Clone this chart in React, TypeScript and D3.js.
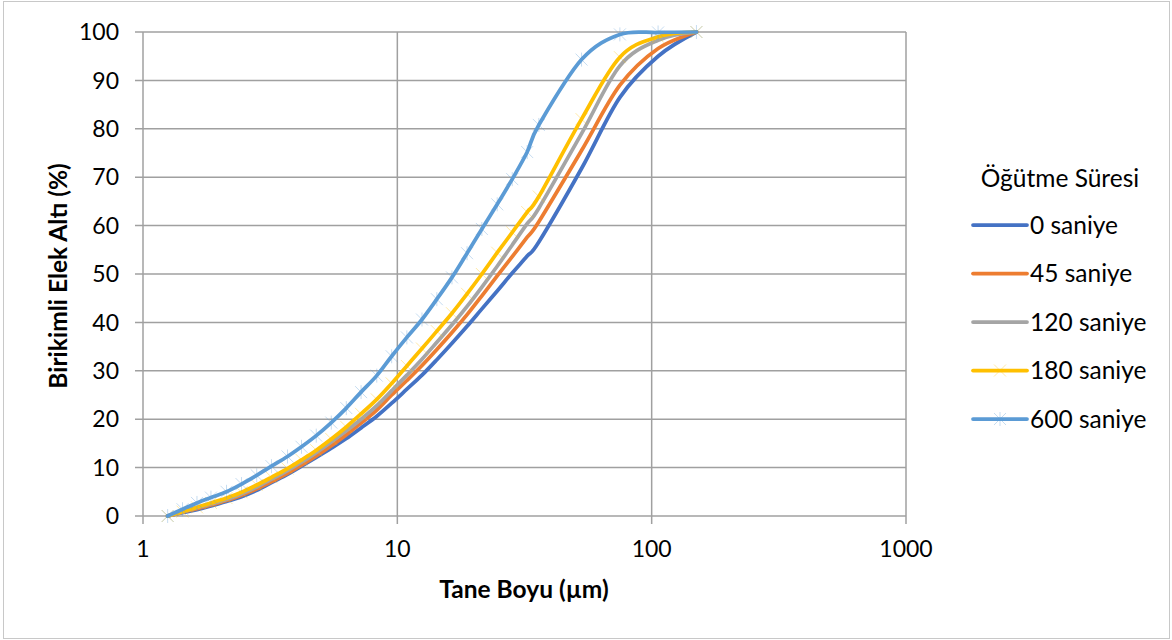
import React from "react";
import * as d3 from "d3";

const sizes = [1.25, 1.43, 1.63, 1.85, 2.13, 2.44, 2.8, 3.2, 3.7, 4.2, 4.8, 5.5, 6.3, 7.2, 8.3, 9.5, 10.9, 12.5, 14.3, 16.4, 18.8, 21.5, 24.7, 28.3, 32.4, 36, 53, 75, 106, 150];

const s0 = [0, 0.7, 1.3, 2.1, 3.0, 4.0, 5.3, 6.9, 8.6, 10.3, 12.1, 14.0, 16.0, 18.2, 20.6, 23.3, 26.2, 29.1, 32.3, 35.7, 39.2, 42.8, 46.5, 50.2, 53.7, 56.6, 71.8, 86.5, 95.0, 100];
const s45 = [0, 0.8, 1.5, 2.3, 3.2, 4.3, 5.6, 7.1, 8.8, 10.5, 12.4, 14.5, 16.8, 19.2, 21.9, 25.0, 28.0, 31.1, 34.4, 37.9, 41.6, 45.5, 49.6, 53.6, 57.6, 60.8, 75.5, 89.0, 96.6, 100];
const s120 = [0, 0.85, 1.7, 2.5, 3.4, 4.6, 6.0, 7.6, 9.4, 11.1, 13.1, 15.3, 17.6, 20.0, 22.8, 25.9, 29.1, 32.4, 35.9, 39.5, 43.3, 47.3, 51.6, 56.0, 60.4, 63.6, 79.0, 93.0, 98.3, 100];
const s180 = [0, 0.9, 1.8, 2.7, 3.7, 4.9, 6.4, 8.0, 9.8, 11.6, 13.6, 15.9, 18.4, 21.1, 24.1, 27.4, 31.0, 34.6, 38.2, 41.9, 45.9, 50.0, 54.4, 58.6, 62.8, 66.0, 82.0, 94.8, 99.0, 100];
const s600 = [0, 1.4, 2.7, 3.8, 5.0, 6.6, 8.4, 10.3, 12.3, 14.3, 16.6, 19.3, 22.3, 25.6, 29.0, 33.0, 36.9, 40.6, 44.8, 49.3, 54.3, 59.3, 64.4, 69.6, 75.2, 80.8, 94.3, 99.5, 99.9, 100];

const seriesNames = ["0 saniye", "45 saniye", "120 saniye", "180 saniye", "600 saniye"];
const seriesValues = [s0, s45, s120, s180, s600];
const seriesColors = ["#4472C4", "#ED7D31", "#A5A5A5", "#FFC000", "#5B9BD5"];
const seriesMarkers = ["none", "none", "none", "x", "star"];

const xTicks = [1, 10, 100, 1000];
const yTicks = [0, 10, 20, 30, 40, 50, 60, 70, 80, 90, 100];

const legendTitle = "Öğütme Süresi";
const xTitle = "Tane Boyu (µm)";
const yTitle = "Birikimli Elek Altı (%)";

const W = 1172;
const H = 640;
const FONT = "Lato, 'Open Sans', sans-serif";

function Marker({ type, x, y, color }: { type: string; x: number; y: number; color: string }) {
  const r = 6;
  if (type === "none") return null;
  const lines: [number, number, number, number][] = [
    [x - r, y - r, x + r, y + r],
    [x - r, y + r, x + r, y - r],
  ];
  if (type === "star") lines.push([x, y - r - 1, x, y + r + 1]);
  return (
    <g stroke={color} strokeWidth={1} strokeOpacity={0.35}>
      {lines.map((l, i) => (
        <line key={i} x1={l[0]} y1={l[1]} x2={l[2]} y2={l[3]} />
      ))}
    </g>
  );
}

export default function App() {
  const x = d3.scaleLog().domain([1, 1000]).range([143, 906]);
  const y = d3.scaleLinear().domain([0, 100]).range([516, 32]);
  const line = d3
    .line<number>()
    .x((_, i) => x(sizes[i]))
    .y((d) => y(d))
    .curve(d3.curveCardinal.tension(0));

  const legendX = 973;
  const legendY0 = 225;
  const legendStep = 48.5;

  return (
    <svg
      width={W}
      height={H}
      style={{ position: "absolute", left: 0, top: 0, background: "#fff" }}
      fontFamily={FONT}
    >
      <rect x={3.5} y={1.5} width={W - 6} height={H - 3} fill="#fff" stroke="#c8c8c8" strokeWidth={1} />

      {yTicks.map((t) => (
        <line key={"gy" + t} x1={135} x2={906} y1={y(t)} y2={y(t)} stroke="#a0a0a0" strokeWidth={1.5} />
      ))}
      {xTicks.map((t) => (
        <line key={"gx" + t} x1={x(t)} x2={x(t)} y1={32} y2={524} stroke="#a0a0a0" strokeWidth={1.5} />
      ))}

      {yTicks.map((t) => (
        <text key={"ty" + t} x={119} y={y(t)} dy="0.36em" textAnchor="end" fontSize={23} fill="#000">
          {t}
        </text>
      ))}
      {xTicks.map((t) => (
        <text key={"tx" + t} x={x(t)} y={557} textAnchor="middle" fontSize={23} fill="#000">
          {t}
        </text>
      ))}

      {seriesValues.map((vals, si) => (
        <g key={"s" + si}>
          {vals.map((v, i) => (
            <Marker key={i} type={seriesMarkers[si]} x={x(sizes[i])} y={y(v)} color={seriesColors[si]} />
          ))}
          <path
            d={line(vals) || ""}
            fill="none"
            stroke={seriesColors[si]}
            strokeWidth={3.75}
            strokeLinejoin="round"
            strokeLinecap="round"
          />
        </g>
      ))}

      <text x={524} y={598} textAnchor="middle" fontSize={24.5} fontWeight="bold" fill="#000">
        {xTitle}
      </text>
      <text
        transform={`translate(67,276) rotate(-90)`}
        textAnchor="middle"
        fontSize={24.5}
        fontWeight="bold"
        fill="#000"
      >
        {yTitle}
      </text>

      <text x={1060} y={178} dy="0.36em" textAnchor="middle" fontSize={24.5} fill="#000">
        {legendTitle}
      </text>
      {seriesNames.map((n, i) => {
        const ly = legendY0 + i * legendStep;
        return (
          <g key={"l" + i}>
            <Marker type={seriesMarkers[i]} x={legendX + 27} y={ly} color={seriesColors[i]} />
            <line x1={legendX} x2={legendX + 54} y1={ly} y2={ly} stroke={seriesColors[i]} strokeWidth={3.75} strokeLinecap="round" />
            <text x={legendX + 57} y={ly} dy="0.36em" fontSize={24.5} fill="#000">
              {n}
            </text>
          </g>
        );
      })}
    </svg>
  );
}
